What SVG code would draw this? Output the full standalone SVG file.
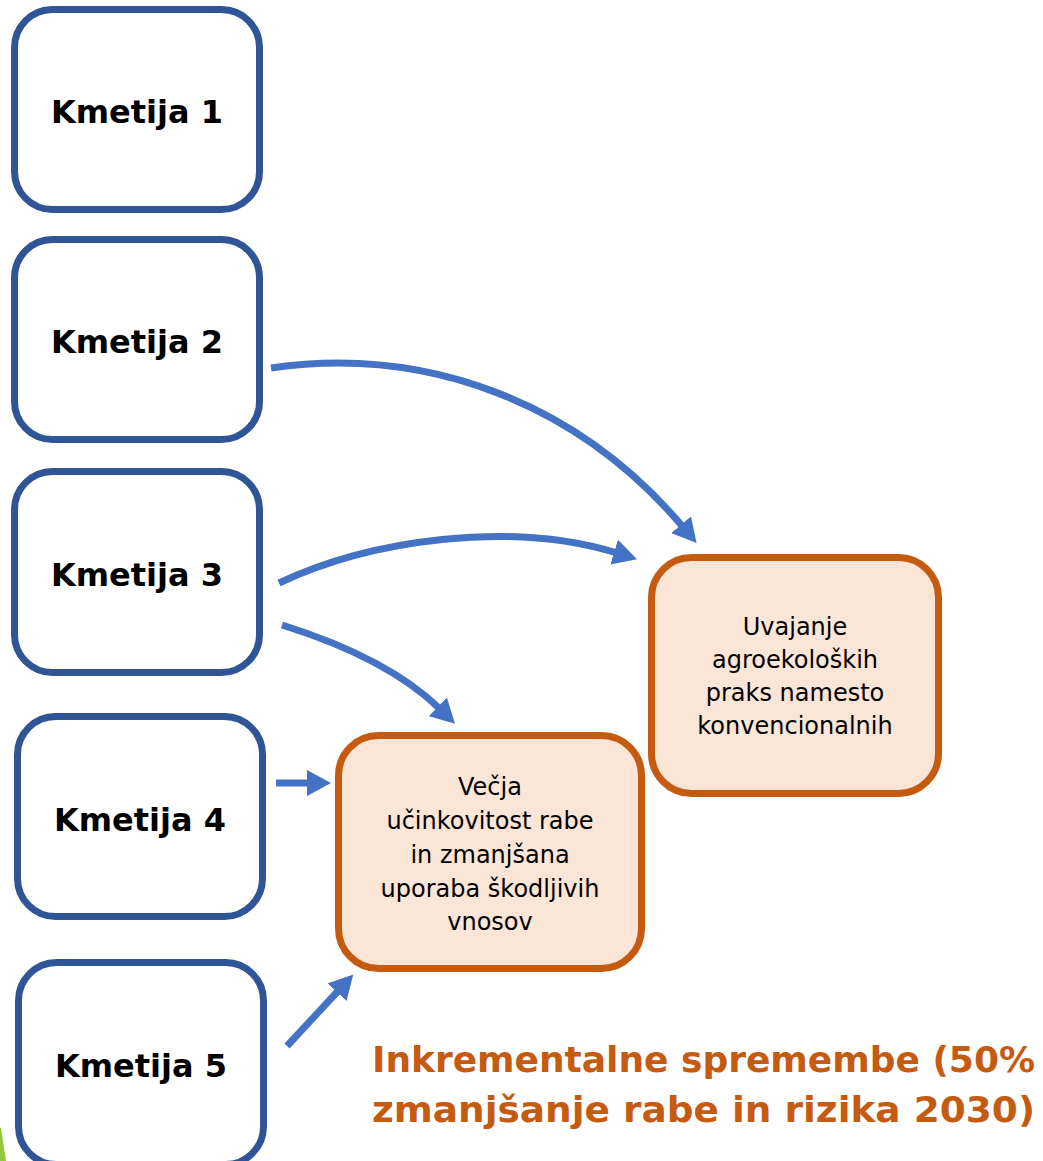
<svg xmlns="http://www.w3.org/2000/svg" width="1043" height="1161" viewBox="0 0 1043 1161">
<style>
.farm{fill:#FFFFFF;stroke:#2F5597;stroke-width:7}
.res{fill:#FBE5D6;stroke:#C55A11;stroke-width:7}
.flabel{font-family:"DejaVu Sans",sans-serif;font-weight:bold;font-size:32px;fill:#000000;text-anchor:middle}
.rlabel{font-family:"DejaVu Sans",sans-serif;font-size:24px;fill:#000000;text-anchor:middle}
.conn{fill:none;stroke:#4472C4;stroke-width:7;marker-end:url(#ah)}
.note{font-family:"DejaVu Sans",sans-serif;font-weight:bold;font-size:36px;fill:#C55A11}
</style>
<defs>
<marker id="ah" markerUnits="userSpaceOnUse" viewBox="0 0 24 26" markerWidth="24" markerHeight="26" refX="3" refY="13" orient="auto">
<path d="M0,0 L24,13 L0,26 z" fill="#4472C4"/>
</marker>
</defs>
<rect width="1043" height="1161" fill="#FFFFFF"/>
<polygon points="0,1128 1,1128 6,1161 0,1161" fill="#92C83E"/>
<g id="connectors">
<path class="conn" d="M271,368 C430,345 580,405 683,527"/>
<path class="conn" d="M279,583 C370,540 510,520 617,553"/>
<path class="conn" d="M282,625 C330,640 395,665 440,709"/>
<path class="conn" d="M276,783 L310,783"/>
<path class="conn" d="M287,1046 L339,990"/>
</g>
<g id="kmetija1">
<rect class="farm" x="14.5" y="9.5" width="245" height="200" rx="38"/>
<text class="flabel" x="137" y="123">Kmetija 1</text>
</g>
<g id="kmetija2">
<rect class="farm" x="14.5" y="239.5" width="245" height="200" rx="38"/>
<text class="flabel" x="137" y="353">Kmetija 2</text>
</g>
<g id="kmetija3">
<rect class="farm" x="14.5" y="471.5" width="245" height="201" rx="38"/>
<text class="flabel" x="137" y="586">Kmetija 3</text>
</g>
<g id="kmetija4">
<rect class="farm" x="17.5" y="716.5" width="245" height="200" rx="38"/>
<text class="flabel" x="140" y="831">Kmetija 4</text>
</g>
<g id="kmetija5">
<rect class="farm" x="18.5" y="962.5" width="245" height="202" rx="38"/>
<text class="flabel" x="141" y="1077">Kmetija 5</text>
</g>
<g id="uvajanje">
<rect class="res" x="651.5" y="557.5" width="287" height="236" rx="40"/>
<text class="rlabel" x="795" y="635">Uvajanje</text>
<text class="rlabel" x="795" y="668">agroekoloških</text>
<text class="rlabel" x="795" y="701">praks namesto</text>
<text class="rlabel" x="795" y="734">konvencionalnih</text>
</g>
<g id="vecja">
<rect class="res" x="338.5" y="735.5" width="303" height="233" rx="40"/>
<text class="rlabel" x="490" y="795">Večja</text>
<text class="rlabel" x="490" y="829">učinkovitost rabe</text>
<text class="rlabel" x="490" y="863">in zmanjšana</text>
<text class="rlabel" x="490" y="897">uporaba škodljivih</text>
<text class="rlabel" x="490" y="930">vnosov</text>
</g>
<g id="note">
<text class="note" x="372" y="1072" textLength="663" lengthAdjust="spacingAndGlyphs">Inkrementalne spremembe (50%</text>
<text class="note" x="372" y="1122" textLength="663" lengthAdjust="spacingAndGlyphs">zmanjšanje rabe in rizika 2030)</text>
</g>
</svg>
